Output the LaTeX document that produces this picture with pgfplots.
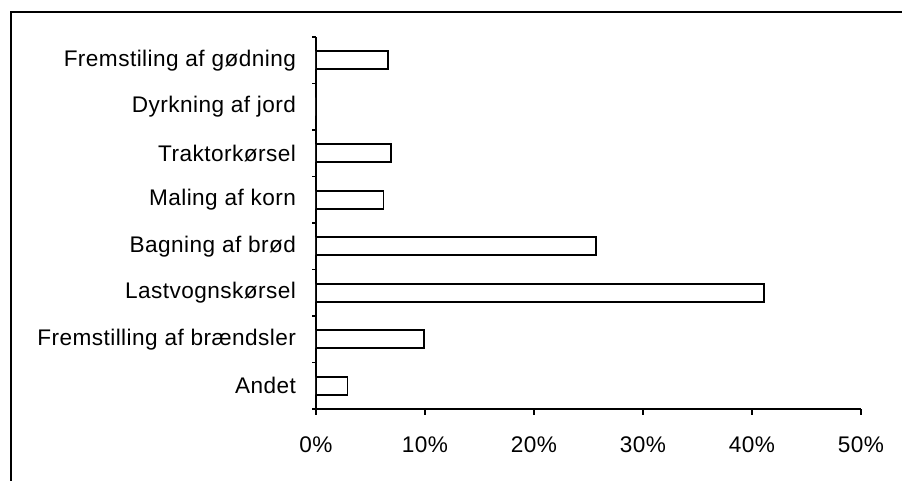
\documentclass[border=0pt]{standalone}
\usepackage{pgfplots}
\pgfplotsset{compat=1.18}
\usepackage{fontspec}
\setmainfont[LetterSpace=2]{Liberation Sans}
\begin{document}
\begin{tikzpicture}
\useasboundingbox (0,0) rectangle (451pt,240.5pt);
\draw[line width=1pt] (5.5pt,0) -- (5.5pt,234.5pt) -- (451pt,234.5pt);
\begin{axis}[
  at={(158pt,36pt)}, anchor=south west,
  scale only axis, width=272.5pt, height=186pt,
  xbar, bar width=9pt,
  xmin=0, xmax=50, ymin=-0.5, ymax=7.5,
  axis x line*=bottom, axis y line*=left,
  axis line style={line width=0.75pt, -},
  xtick={0,10,...,50},
  xticklabel={\pgfmathprintnumber{\tick}\%},
  /pgf/number format/assume math mode=true,
  ytick={0,...,7},
  yticklabels={Andet, Fremstilling af brændsler, Lastvognskørsel, Bagning af brød, Maling af korn, Traktorkørsel, Dyrkning af jord, Fremstiling af gødning},
  minor ytick={-0.5,0.5,...,7.5},
  tick align=outside,
  major tick length=3pt, minor tick length=1.8pt,
  major y tick style={draw=none},
  every tick/.style={black, line width=0.75pt},
  ticklabel style={font=\fontsize{11.3}{13}\selectfont},
  yticklabel style={xshift=-3.5pt},
  xticklabel style={yshift=-7.5pt},
]
\addplot[draw=black, fill=white, line width=0.8pt] coordinates {
(2.9,0) (9.9,1) (41.1,2) (25.7,3) (6.2,4) (6.9,5) (0,6) (6.6,7)
};
\end{axis}
\end{tikzpicture}
\end{document}
